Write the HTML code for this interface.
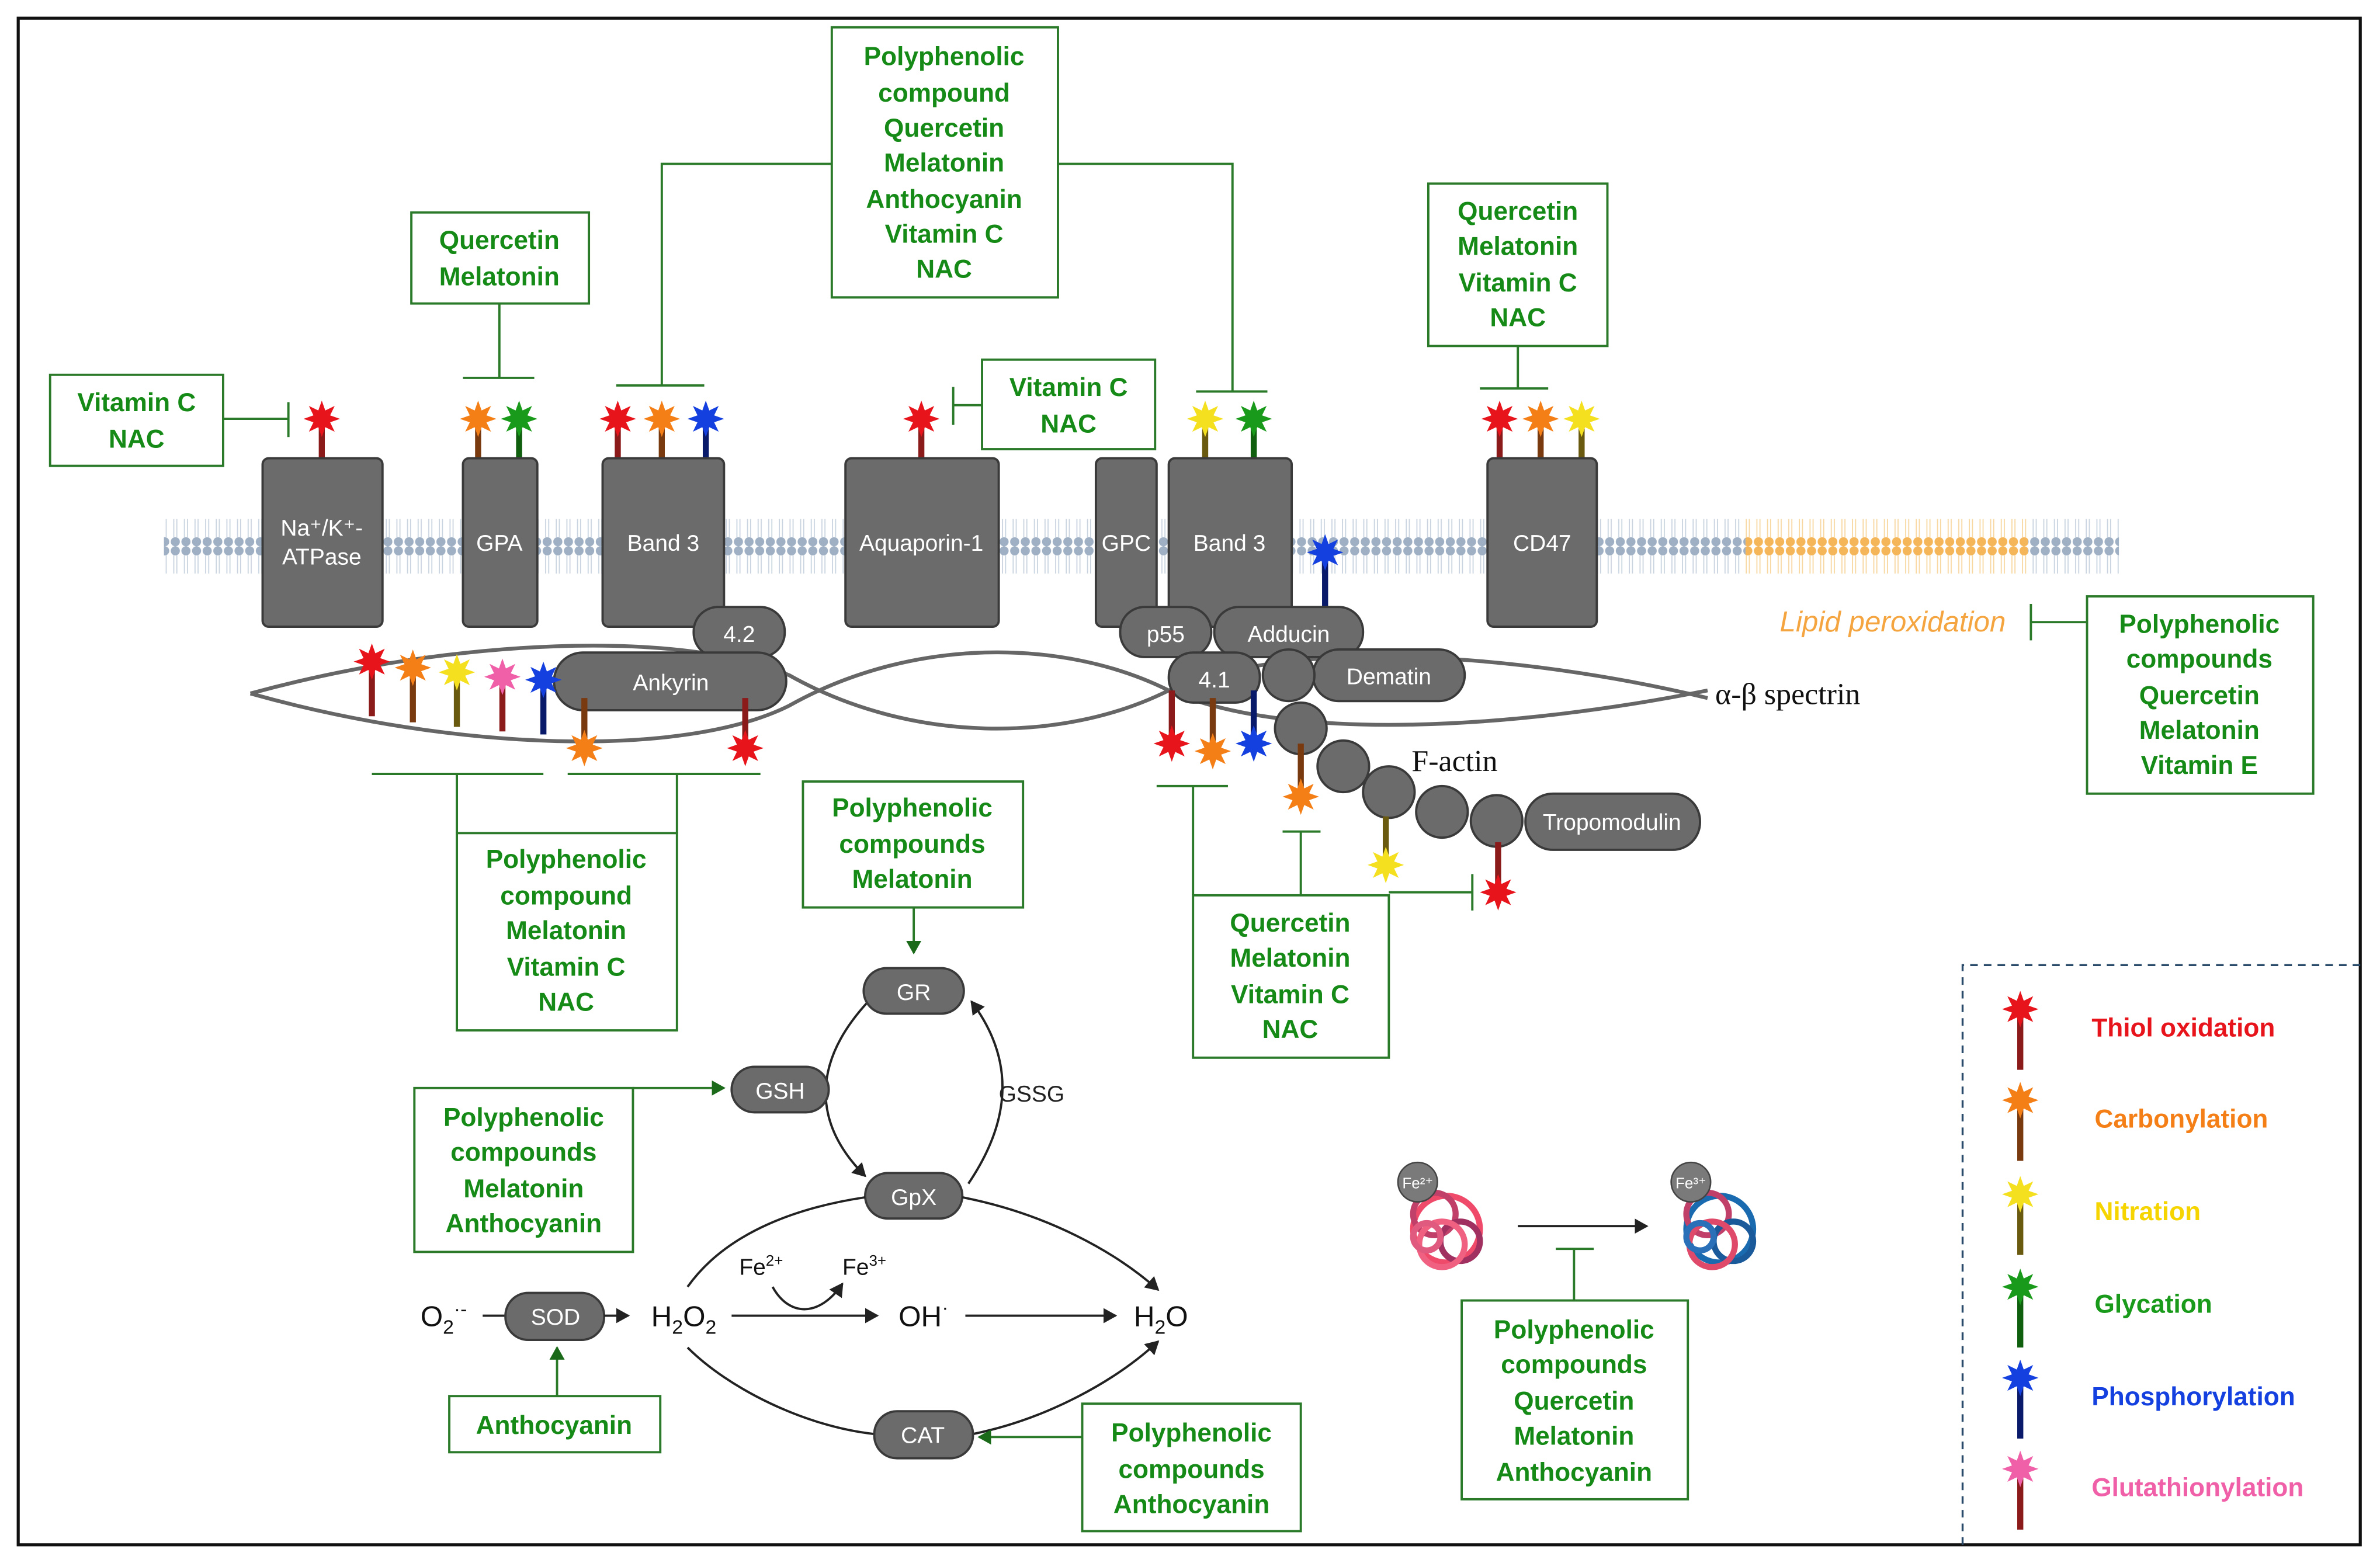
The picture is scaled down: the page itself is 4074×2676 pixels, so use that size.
<!DOCTYPE html>
<html><head><meta charset="utf-8"><style>
html,body{margin:0;padding:0;background:#fff;}
svg{display:block;}
.g{font-family:"Liberation Sans",sans-serif;font-weight:bold;font-size:17px;fill:#168a16;text-anchor:middle;}
.bx{fill:#fff;stroke:#2a7a2a;stroke-width:1.5;}
.ln{stroke:#2a7a2a;stroke-width:1.5;fill:none;}
.pr{fill:#6b6b6b;stroke:#3a3a3a;stroke-width:1.5;}
.pt{font-family:"Liberation Sans",sans-serif;font-size:15px;fill:#fff;text-anchor:middle;}
.k{stroke:#222;stroke-width:1.5;fill:none;}
.bt{font-family:"Liberation Sans",sans-serif;font-size:19px;fill:#111;}
.lg{font-family:"Liberation Sans",sans-serif;font-weight:bold;font-size:17px;}
</style></head><body>
<svg width="4074" height="2676" viewBox="0 0 1568 1030" preserveAspectRatio="none" xmlns="http://www.w3.org/2000/svg">
<defs>
<polygon id="st" points="0,-12 2.3,-5.5 8.5,-8.5 5.5,-2.3 12,0 5.5,2.3 8.5,8.5 2.3,5.5 0,12 -2.3,5.5 -8.5,8.5 -5.5,2.3 -12,0 -5.5,-2.3 -8.5,-8.5 -2.3,-5.5"/>
<pattern id="mem" x="0" y="0" width="7" height="45" patternUnits="userSpaceOnUse">
<circle cx="3.5" cy="3" r="3" fill="#9fb0c4"/><circle cx="3.5" cy="42" r="3" fill="#9fb0c4"/>
<path d="M2.5 6 V18 M4.5 6 V18 M2.5 27 V39 M4.5 27 V39" stroke="#c9d4e0" stroke-width="0.7"/>
</pattern>
<pattern id="memo" x="0" y="0" width="7" height="45" patternUnits="userSpaceOnUse">
<circle cx="3.5" cy="3" r="3" fill="#f5b65a"/><circle cx="3.5" cy="42" r="3" fill="#f5b65a"/>
<path d="M2.5 6 V18 M4.5 6 V18 M2.5 27 V39 M4.5 27 V39" stroke="#f8d7a0" stroke-width="0.7"/>
</pattern>
<marker id="ab" markerWidth="10" markerHeight="10" refX="8" refY="5" orient="auto" markerUnits="userSpaceOnUse"><path d="M0,0 L9,5 L0,10 z" fill="#222"/></marker>
<marker id="ag" markerWidth="10" markerHeight="10" refX="8" refY="5" orient="auto" markerUnits="userSpaceOnUse"><path d="M0,0 L9,5 L0,10 z" fill="#1a6a1a"/></marker>
</defs>
<rect x="0" y="0" width="1568" height="1030" fill="#fff"/>
<rect x="12" y="12" width="1543" height="1006" fill="none" stroke="#111" stroke-width="2"/>

<rect x="108" y="335" width="1042" height="45" fill="url(#mem)"/>
<rect x="1150" y="335" width="186" height="45" fill="url(#memo)"/>
<rect x="1336" y="335" width="60" height="45" fill="url(#mem)"/>

<path d="M165 457 C 300 420, 450 415, 520 445 C 600 490, 700 490, 770 455 C 850 420, 1000 430, 1125 460" style="fill:none;stroke:#666;stroke-width:2.5"/>
<path d="M165 457 C 300 495, 450 500, 520 465 C 600 420, 700 420, 770 455 C 850 490, 1000 480, 1125 455" style="fill:none;stroke:#666;stroke-width:2.5"/>
<text x="1130" y="464" style="font-family:'Liberation Serif',serif;font-size:20px;fill:#111">α-β spectrin</text>

<g>
<rect x="210" y="276" width="4" height="28" fill="#8b1a1a"/><use href="#st" x="212" y="276" fill="#e8141c"/>
<rect x="313" y="276" width="4" height="28" fill="#7a3a10"/><use href="#st" x="315" y="276" fill="#f57f17"/>
<rect x="340" y="276" width="4" height="28" fill="#0f5f0f"/><use href="#st" x="342" y="276" fill="#1a9a1a"/>
<rect x="405" y="276" width="4" height="28" fill="#8b1a1a"/><use href="#st" x="407" y="276" fill="#e8141c"/>
<rect x="434" y="276" width="4" height="28" fill="#7a3a10"/><use href="#st" x="436" y="276" fill="#f57f17"/>
<rect x="463" y="276" width="4" height="28" fill="#0a1a6a"/><use href="#st" x="465" y="276" fill="#1440e0"/>
<rect x="605" y="276" width="4" height="28" fill="#8b1a1a"/><use href="#st" x="607" y="276" fill="#e8141c"/>
<rect x="792" y="276" width="4" height="28" fill="#6a5a10"/><use href="#st" x="794" y="276" fill="#f5e020"/>
<rect x="824" y="276" width="4" height="28" fill="#0f5f0f"/><use href="#st" x="826" y="276" fill="#1a9a1a"/>
<rect x="986" y="276" width="4" height="28" fill="#8b1a1a"/><use href="#st" x="988" y="276" fill="#e8141c"/>
<rect x="1013" y="276" width="4" height="28" fill="#7a3a10"/><use href="#st" x="1015" y="276" fill="#f57f17"/>
<rect x="1040" y="276" width="4" height="28" fill="#6a5a10"/><use href="#st" x="1042" y="276" fill="#f5e020"/>
</g>

<rect class="pr" x="173" y="302" width="79" height="111" rx="4"/>
<text class="pt" x="212" y="353">Na⁺/K⁺-</text><text class="pt" x="212" y="372">ATPase</text>
<rect class="pr" x="305" y="302" width="49" height="111" rx="4"/><text class="pt" x="329" y="363">GPA</text>
<rect class="pr" x="397" y="302" width="80" height="111" rx="4"/><text class="pt" x="437" y="363">Band 3</text>
<rect class="pr" x="557" y="302" width="101" height="111" rx="4"/><text class="pt" x="607" y="363">Aquaporin-1</text>
<rect class="pr" x="722" y="302" width="40" height="111" rx="4"/><text class="pt" x="742" y="363">GPC</text>
<rect class="pr" x="770" y="302" width="81" height="111" rx="4"/><text class="pt" x="810" y="363">Band 3</text>
<rect class="pr" x="980" y="302" width="72" height="111" rx="4"/><text class="pt" x="1016" y="363">CD47</text>
<rect x="871" y="364" width="4" height="38" fill="#0a1a6a"/><use href="#st" x="873" y="364" fill="#1440e0"/>

<rect class="pr" x="457" y="400" width="60" height="33" rx="16"/><text class="pt" x="487" y="423">4.2</text>
<rect class="pr" x="365" y="430" width="153" height="38" rx="19"/><text class="pt" x="442" y="455">Ankyrin</text>
<rect class="pr" x="738" y="400" width="60" height="33" rx="16"/><text class="pt" x="768" y="423">p55</text>
<rect class="pr" x="800" y="400" width="98" height="33" rx="16"/><text class="pt" x="849" y="423">Adducin</text>
<rect class="pr" x="865" y="428" width="100" height="34" rx="17"/><text class="pt" x="915" y="451">Dematin</text>
<rect class="pr" x="770" y="430" width="60" height="33" rx="16"/><text class="pt" x="800" y="453">4.1</text>
<circle class="pr" cx="849" cy="445" r="17"/>
<circle class="pr" cx="857" cy="480" r="17"/>
<circle class="pr" cx="885" cy="505" r="17"/>
<circle class="pr" cx="915" cy="522" r="17"/>
<circle class="pr" cx="950" cy="535" r="17"/>
<circle class="pr" cx="986" cy="541" r="17"/>
<rect class="pr" x="1005" y="523" width="115" height="37" rx="18"/><text class="pt" x="1062" y="547">Tropomodulin</text>
<text x="930" y="508" style="font-family:'Liberation Serif',serif;font-size:20px;fill:#111">F-actin</text>

<rect x="243" y="436" width="4" height="36" fill="#8b1a1a"/><use href="#st" x="245" y="436" fill="#e8141c"/>
<rect x="270" y="440" width="4" height="36" fill="#7a3a10"/><use href="#st" x="272" y="440" fill="#f57f17"/>
<rect x="299" y="443" width="4" height="36" fill="#6a5a10"/><use href="#st" x="301" y="443" fill="#f5e020"/>
<rect x="329" y="446" width="4" height="36" fill="#8b1a1a"/><use href="#st" x="331" y="446" fill="#f060a8"/>
<rect x="356" y="448" width="4" height="36" fill="#0a1a6a"/><use href="#st" x="358" y="448" fill="#1440e0"/>
<rect x="383" y="460" width="4" height="33" fill="#7a3a10"/><use href="#st" x="385" y="493" fill="#f57f17"/>
<rect x="489" y="460" width="4" height="33" fill="#8b1a1a"/><use href="#st" x="491" y="493" fill="#e8141c"/>
<rect x="770" y="455" width="4" height="35" fill="#8b1a1a"/><use href="#st" x="772" y="490" fill="#e8141c"/>
<rect x="797" y="460" width="4" height="35" fill="#7a3a10"/><use href="#st" x="799" y="495" fill="#f57f17"/>
<rect x="824" y="455" width="4" height="35" fill="#0a1a6a"/><use href="#st" x="826" y="490" fill="#1440e0"/>
<rect x="855" y="490" width="4" height="35" fill="#7a3a10"/><use href="#st" x="857" y="525" fill="#f57f17"/>
<rect x="911" y="538" width="4" height="32" fill="#6a5a10"/><use href="#st" x="913" y="570" fill="#f5e020"/>
<rect x="985" y="555" width="4" height="33" fill="#8b1a1a"/><use href="#st" x="987" y="588" fill="#e8141c"/>

<rect class="bx" x="33" y="247" width="114" height="60"/>
<text class="g" x="90" y="271">Vitamin C</text><text class="g" x="90" y="295">NAC</text>
<path class="ln" d="M147 276 H190 M190 265 V288"/>

<rect class="bx" x="271" y="140" width="117" height="60"/>
<text class="g" x="329" y="164">Quercetin</text><text class="g" x="329" y="188">Melatonin</text>
<path class="ln" d="M329 200 V249 M305 249 H352"/>

<rect class="bx" x="548" y="18" width="149" height="178"/>
<text class="g" x="622" y="43">Polyphenolic</text><text class="g" x="622" y="67">compound</text>
<text class="g" x="622" y="90">Quercetin</text><text class="g" x="622" y="113">Melatonin</text>
<text class="g" x="622" y="137">Anthocyanin</text><text class="g" x="622" y="160">Vitamin C</text>
<text class="g" x="622" y="183">NAC</text>
<path class="ln" d="M548 108 H436 V254 M406 254 H464 M697 108 H812 V258 M788 258 H835"/>

<rect class="bx" x="647" y="237" width="114" height="59"/>
<text class="g" x="704" y="261">Vitamin C</text><text class="g" x="704" y="285">NAC</text>
<path class="ln" d="M647 267 H628 M628 255 V280"/>

<rect class="bx" x="941" y="121" width="118" height="107"/>
<text class="g" x="1000" y="145">Quercetin</text><text class="g" x="1000" y="168">Melatonin</text>
<text class="g" x="1000" y="192">Vitamin C</text><text class="g" x="1000" y="215">NAC</text>
<path class="ln" d="M1000 228 V256 M975 256 H1020"/>

<text x="1247" y="416" style="font-family:'Liberation Sans',sans-serif;font-style:italic;font-size:19px;fill:#f5a540;text-anchor:middle">Lipid peroxidation</text>
<path class="ln" d="M1338 398 V422 M1338 410 H1375"/>
<rect class="bx" x="1375" y="393" width="149" height="130"/>
<text class="g" x="1449" y="417">Polyphenolic</text><text class="g" x="1449" y="440">compounds</text>
<text class="g" x="1449" y="464">Quercetin</text><text class="g" x="1449" y="487">Melatonin</text>
<text class="g" x="1449" y="510">Vitamin E</text>

<path class="ln" d="M245 510 H358 M374 510 H501 M301 510 V549 M446 510 V549"/>
<rect class="bx" x="301" y="549" width="145" height="130"/>
<text class="g" x="373" y="572">Polyphenolic</text><text class="g" x="373" y="596">compound</text>
<text class="g" x="373" y="619">Melatonin</text><text class="g" x="373" y="643">Vitamin C</text>
<text class="g" x="373" y="666">NAC</text>

<path class="ln" d="M762 518 H809 M786 518 V590 M845 548 H870 M857 548 V590 M915 588 H970 M970 576 V600"/>
<rect class="bx" x="786" y="590" width="129" height="107"/>
<text class="g" x="850" y="614">Quercetin</text><text class="g" x="850" y="637">Melatonin</text>
<text class="g" x="850" y="661">Vitamin C</text><text class="g" x="850" y="684">NAC</text>

<rect class="bx" x="529" y="515" width="145" height="83"/>
<text class="g" x="601" y="538">Polyphenolic</text><text class="g" x="601" y="562">compounds</text>
<text class="g" x="601" y="585">Melatonin</text>
<path class="ln" d="M602 598 V628" marker-end="url(#ag)"/>

<path class="k" d="M572 660 C 535 700, 535 740, 570 775" marker-end="url(#ab)"/>
<path class="k" d="M638 780 C 665 740, 670 700, 640 660" marker-end="url(#ab)"/>
<text x="658" y="726" style="font-family:'Liberation Sans',sans-serif;font-size:15px;fill:#222">GSSG</text>
<rect class="pr" x="569" y="638" width="66" height="30" rx="15"/><text class="pt" x="602" y="659">GR</text>
<rect class="pr" x="482" y="703" width="64" height="30" rx="15"/><text class="pt" x="514" y="724">GSH</text>
<rect class="pr" x="570" y="773" width="64" height="30" rx="15"/><text class="pt" x="602" y="794">GpX</text>

<rect class="bx" x="273" y="717" width="144" height="108"/>
<text class="g" x="345" y="742">Polyphenolic</text><text class="g" x="345" y="765">compounds</text>
<text class="g" x="345" y="789">Melatonin</text><text class="g" x="345" y="812">Anthocyanin</text>
<path class="ln" d="M417 717 H477" marker-end="url(#ag)"/>

<text class="bt" x="277" y="874">O<tspan font-size="13" dy="5">2</tspan><tspan font-size="13" dy="-12">·-</tspan></text>
<path class="k" d="M318 867 H333"/>
<rect class="pr" x="333" y="852" width="65" height="31" rx="15"/><text class="pt" x="366" y="873">SOD</text>
<path class="k" d="M398 867 H414" marker-end="url(#ab)"/>
<text class="bt" x="429" y="874">H<tspan font-size="13" dy="5">2</tspan><tspan dy="-5">O</tspan><tspan font-size="13" dy="5">2</tspan></text>
<path class="k" d="M482 867 H578" marker-end="url(#ab)"/>
<text class="bt" x="592" y="874">OH<tspan font-size="13" dy="-8">·</tspan></text>
<path class="k" d="M636 867 H735" marker-end="url(#ab)"/>
<text class="bt" x="747" y="874">H<tspan font-size="13" dy="5">2</tspan><tspan dy="-5">O</tspan></text>
<text x="487" y="840" style="font-family:'Liberation Sans',sans-serif;font-size:15px;fill:#111">Fe<tspan font-size="10" dy="-6">2+</tspan></text>
<text x="555" y="840" style="font-family:'Liberation Sans',sans-serif;font-size:15px;fill:#111">Fe<tspan font-size="10" dy="-6">3+</tspan></text>
<path class="k" d="M509 848 C 520 868, 540 868, 555 846" marker-end="url(#ab)"/>
<path class="k" d="M453 848 C 480 810, 530 795, 570 789"/>
<path class="k" d="M634 789 C 690 800, 735 825, 763 850" marker-end="url(#ab)"/>
<path class="k" d="M453 888 C 480 915, 530 940, 576 945"/>
<path class="k" d="M641 945 C 690 935, 735 910, 763 884" marker-end="url(#ab)"/>
<rect class="pr" x="576" y="930" width="65" height="31" rx="15"/><text class="pt" x="608" y="951">CAT</text>

<rect class="bx" x="296" y="920" width="139" height="37"/>
<text class="g" x="365" y="945">Anthocyanin</text>
<path class="ln" d="M367 920 V888" marker-end="url(#ag)"/>

<rect class="bx" x="713" y="925" width="144" height="84"/>
<text class="g" x="785" y="950">Polyphenolic</text><text class="g" x="785" y="974">compounds</text>
<text class="g" x="785" y="997">Anthocyanin</text>
<path class="ln" d="M713 947 H645" marker-end="url(#ag)"/>

<g fill="none" stroke-width="4">
<circle cx="953" cy="810" r="22" stroke="#f04a6a"/><circle cx="945" cy="800" r="14" stroke="#c0406a"/><circle cx="962" cy="818" r="13" stroke="#a03060"/><circle cx="950" cy="820" r="15" stroke="#f06080"/><circle cx="940" cy="815" r="9" stroke="#e05a80"/>
<circle cx="1133" cy="810" r="22" stroke="#1a6ab0"/><circle cx="1125" cy="800" r="14" stroke="#c0406a"/><circle cx="1142" cy="818" r="13" stroke="#1a5a9a"/><circle cx="1128" cy="820" r="15" stroke="#e04a6a"/><circle cx="1120" cy="815" r="9" stroke="#2a70b8"/>
</g>
<circle cx="934" cy="779" r="13" fill="#7a7a7a" stroke="#444"/><text x="934" y="783" style="font-family:'Liberation Sans',sans-serif;font-size:10px;fill:#fff;text-anchor:middle">Fe²⁺</text>
<circle cx="1114" cy="779" r="13" fill="#7a7a7a" stroke="#444"/><text x="1114" y="783" style="font-family:'Liberation Sans',sans-serif;font-size:10px;fill:#fff;text-anchor:middle">Fe³⁺</text>
<path class="k" d="M1000 808 H1085" marker-end="url(#ab)"/>
<path class="ln" d="M1025 823 H1050 M1037 823 V857"/>
<rect class="bx" x="963" y="857" width="149" height="131"/>
<text class="g" x="1037" y="882">Polyphenolic</text><text class="g" x="1037" y="905">compounds</text>
<text class="g" x="1037" y="929">Quercetin</text><text class="g" x="1037" y="952">Melatonin</text>
<text class="g" x="1037" y="976">Anthocyanin</text>

<path d="M1293 1018 V636 H1555" fill="none" stroke="#2a4a6a" stroke-width="1.3" stroke-dasharray="5,4"/>
<rect x="1329" y="665" width="4" height="40" fill="#8b1a1a"/><use href="#st" x="1331" y="665" fill="#e8141c"/>
<text class="lg" x="1378" y="683" fill="#e8141c">Thiol oxidation</text>
<rect x="1329" y="725" width="4" height="40" fill="#7a3a10"/><use href="#st" x="1331" y="725" fill="#f57f17"/>
<text class="lg" x="1380" y="743" fill="#f57f17">Carbonylation</text>
<rect x="1329" y="787" width="4" height="40" fill="#6a5a10"/><use href="#st" x="1331" y="787" fill="#f5e020"/>
<text class="lg" x="1380" y="804" fill="#f5d400">Nitration</text>
<rect x="1329" y="848" width="4" height="40" fill="#0f5f0f"/><use href="#st" x="1331" y="848" fill="#1a9a1a"/>
<text class="lg" x="1380" y="865" fill="#1a9a1a">Glycation</text>
<rect x="1329" y="908" width="4" height="40" fill="#0a1a6a"/><use href="#st" x="1331" y="908" fill="#1440e0"/>
<text class="lg" x="1378" y="926" fill="#1440e0">Phosphorylation</text>
<rect x="1329" y="968" width="4" height="40" fill="#8b1a1a"/><use href="#st" x="1331" y="968" fill="#f060a8"/>
<text class="lg" x="1378" y="986" fill="#f060a8">Glutathionylation</text>
</svg>
</body></html>
